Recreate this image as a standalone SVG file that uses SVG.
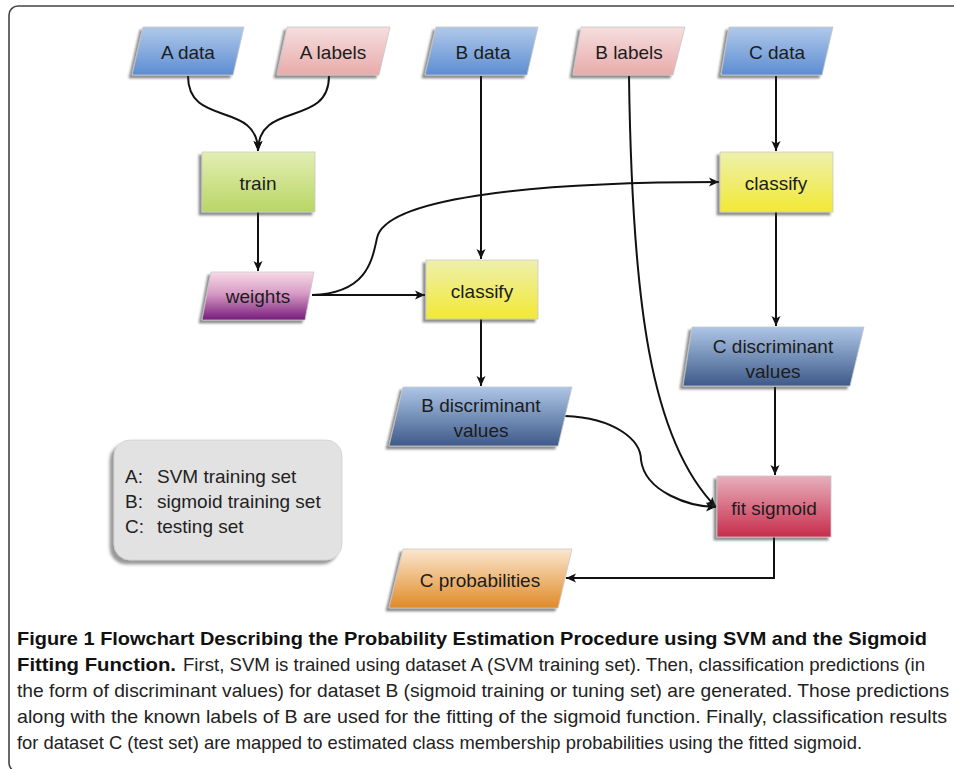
<svg xmlns="http://www.w3.org/2000/svg" width="954" height="769" viewBox="0 0 954 769">
<style>
.lbl{font-family:"Liberation Sans",Arial,sans-serif;font-size:19px;fill:#1c1c1c;text-anchor:middle}
.leg{font-family:"Liberation Sans",Arial,sans-serif;font-size:19px;fill:#222}
.cap{font-family:"Liberation Sans",Arial,sans-serif;font-size:19px;fill:#222}
.capb{font-family:"Liberation Sans",Arial,sans-serif;font-size:19px;font-weight:bold;fill:#111}
.edge{fill:none;stroke:#111;stroke-width:2}
.node{stroke:#c8c8c8;stroke-width:0.8;filter:url(#sh)}
</style>
<defs>
<filter id="sh" x="-15%" y="-15%" width="130%" height="140%">
<feDropShadow dx="-3" dy="3" stdDeviation="1.2" flood-color="#333" flood-opacity="0.55"/>
</filter>
<filter id="sh2" x="-10%" y="-10%" width="120%" height="130%">
<feDropShadow dx="-4" dy="4" stdDeviation="1.5" flood-color="#555" flood-opacity="0.6"/>
</filter>
<linearGradient id="gBlue" x1="0" y1="0" x2="0" y2="1"><stop offset="0" stop-color="#b0c9ea"/><stop offset="1" stop-color="#5d8dd2"/></linearGradient>
<linearGradient id="gPink" x1="0" y1="0" x2="0" y2="1"><stop offset="0" stop-color="#f6dede"/><stop offset="1" stop-color="#e8abab"/></linearGradient>
<linearGradient id="gGreen" x1="0" y1="0" x2="0" y2="1"><stop offset="0" stop-color="#e3eeb3"/><stop offset="1" stop-color="#b9d665"/></linearGradient>
<linearGradient id="gYellow" x1="0" y1="0" x2="0" y2="1"><stop offset="0" stop-color="#eef0ad"/><stop offset="1" stop-color="#f2e934"/></linearGradient>
<linearGradient id="gPurple" x1="0" y1="0" x2="0" y2="1"><stop offset="0" stop-color="#f6dbe6"/><stop offset="0.45" stop-color="#d79ac5"/><stop offset="1" stop-color="#761c7c"/></linearGradient>
<linearGradient id="gDisc" x1="0" y1="0" x2="0" y2="1"><stop offset="0" stop-color="#aec6e6"/><stop offset="1" stop-color="#3d5a8a"/></linearGradient>
<linearGradient id="gRed" x1="0" y1="0" x2="0" y2="1"><stop offset="0" stop-color="#e7b0bc"/><stop offset="1" stop-color="#c82c4c"/></linearGradient>
<linearGradient id="gOrange" x1="0" y1="0" x2="0" y2="1"><stop offset="0" stop-color="#fbe7d0"/><stop offset="1" stop-color="#e08a26"/></linearGradient>
<marker id="arr" viewBox="0 0 10 10" refX="10" refY="5" markerWidth="10" markerHeight="10" markerUnits="userSpaceOnUse" orient="auto">
<path d="M0,0.5 L10,5 L0,9.5 L2.5,5 z" fill="#111"/>
</marker>
</defs>

<rect x="9" y="6" width="970" height="766" rx="9" fill="#fff" stroke="#444" stroke-width="1.6"/>

<g id="connectors">
<path class="edge" d="M188,76 C188,128 258,100 258,151" marker-end="url(#arr)"/>
<path class="edge" d="M329,76 C329,128 258,100 258,151" marker-end="url(#arr)"/>
<path class="edge" d="M258,212 L258,271" marker-end="url(#arr)"/>
<path class="edge" d="M312,295 L425,295" marker-end="url(#arr)"/>
<path class="edge" d="M312,295 C366,293 372,262 377,238 C385,200 520,182 719,182" marker-end="url(#arr)"/>
<path class="edge" d="M481,76 L481,259" marker-end="url(#arr)"/>
<path class="edge" d="M481,319 L481,386" marker-end="url(#arr)"/>
<path class="edge" d="M629,76 C632,300 650,440 716,507" marker-end="url(#arr)"/>
<path class="edge" d="M565,416 C615,418 641,440 641,460 C645,492 690,507 716,507" marker-end="url(#arr)"/>
<path class="edge" d="M776,76 L776,151" marker-end="url(#arr)"/>
<path class="edge" d="M776,212 L776,326" marker-end="url(#arr)"/>
<path class="edge" d="M775,387 L775,475" marker-end="url(#arr)"/>
<path class="edge" d="M774,537 L774,578 L566,578" marker-end="url(#arr)"/>
</g>

<g id="a-data"><polygon class="node" points="143,27 244,27 233,75 132,75" fill="url(#gBlue)"/><text class="lbl" x="188" y="59">A data</text></g>
<g id="a-labels"><polygon class="node" points="287,27 390,27 379,75 277,75" fill="url(#gPink)"/><text class="lbl" x="333" y="59">A labels</text></g>
<g id="b-data"><polygon class="node" points="436,27 538,27 527,75 425,75" fill="url(#gBlue)"/><text class="lbl" x="483" y="59">B data</text></g>
<g id="b-labels"><polygon class="node" points="581,27 685,27 673,75 573,75" fill="url(#gPink)"/><text class="lbl" x="629" y="59">B labels</text></g>
<g id="c-data"><polygon class="node" points="729,27 833,27 822,75 721,75" fill="url(#gBlue)"/><text class="lbl" x="777" y="59">C data</text></g>

<g id="train"><rect class="node" x="202" y="152" width="113" height="60" fill="url(#gGreen)"/><text class="lbl" x="258" y="190">train</text></g>
<g id="weights"><polygon class="node" points="211,272 314,272 305,320 202,320" fill="url(#gPurple)"/><text class="lbl" x="258" y="303">weights</text></g>
<g id="classify-b"><rect class="node" x="426" y="260" width="112" height="59" fill="url(#gYellow)"/><text class="lbl" x="482" y="298">classify</text></g>
<g id="classify-c"><rect class="node" x="720" y="152" width="113" height="60" fill="url(#gYellow)"/><text class="lbl" x="776" y="190">classify</text></g>

<g id="b-disc"><polygon class="node" points="403,387 572,387 558,446 389,446" fill="url(#gDisc)"/><text class="lbl" x="481" y="412">B discriminant</text><text class="lbl" x="481" y="437">values</text></g>
<g id="c-disc"><polygon class="node" points="692,327 864,327 850,386 683,386" fill="url(#gDisc)"/><text class="lbl" x="773" y="353">C discriminant</text><text class="lbl" x="773" y="378">values</text></g>
<g id="fit-sigmoid"><rect class="node" x="717" y="476" width="114" height="61" fill="url(#gRed)"/><text class="lbl" x="774" y="515">fit sigmoid</text></g>
<g id="c-prob"><polygon class="node" points="403,549 572,549 558,608 389,608" fill="url(#gOrange)"/><text class="lbl" x="480" y="587">C probabilities</text></g>

<g id="legend">
<rect x="114" y="440" width="228" height="120" rx="16" fill="#e2e2e2" stroke="#d0d0d0" stroke-width="0.8" filter="url(#sh2)"/>
<text class="leg" x="125" y="483">A:</text><text class="leg" x="157" y="483">SVM training set</text>
<text class="leg" x="125" y="508">B:</text><text class="leg" x="157" y="508">sigmoid training set</text>
<text class="leg" x="125" y="533">C:</text><text class="leg" x="157" y="533">testing set</text>
</g>

<g id="caption">
<text class="capb" x="17" y="645" textLength="910" lengthAdjust="spacingAndGlyphs">Figure 1 Flowchart Describing the Probability Estimation Procedure using SVM and the Sigmoid</text>
<text class="capb" x="17" y="671" textLength="159" lengthAdjust="spacingAndGlyphs">Fitting Function.</text>
<text class="cap" x="183" y="671" textLength="742" lengthAdjust="spacingAndGlyphs">First, SVM is trained using dataset A (SVM training set). Then, classification predictions (in</text>
<text class="cap" x="17" y="697" textLength="932" lengthAdjust="spacingAndGlyphs">the form of discriminant values) for dataset B (sigmoid training or tuning set) are generated. Those predictions</text>
<text class="cap" x="17" y="723" textLength="930" lengthAdjust="spacingAndGlyphs">along with the known labels of B are used for the fitting of the sigmoid function. Finally, classification results</text>
<text class="cap" x="17" y="749" textLength="845" lengthAdjust="spacingAndGlyphs">for dataset C (test set) are mapped to estimated class membership probabilities using the fitted sigmoid.</text>
</g>
</svg>
